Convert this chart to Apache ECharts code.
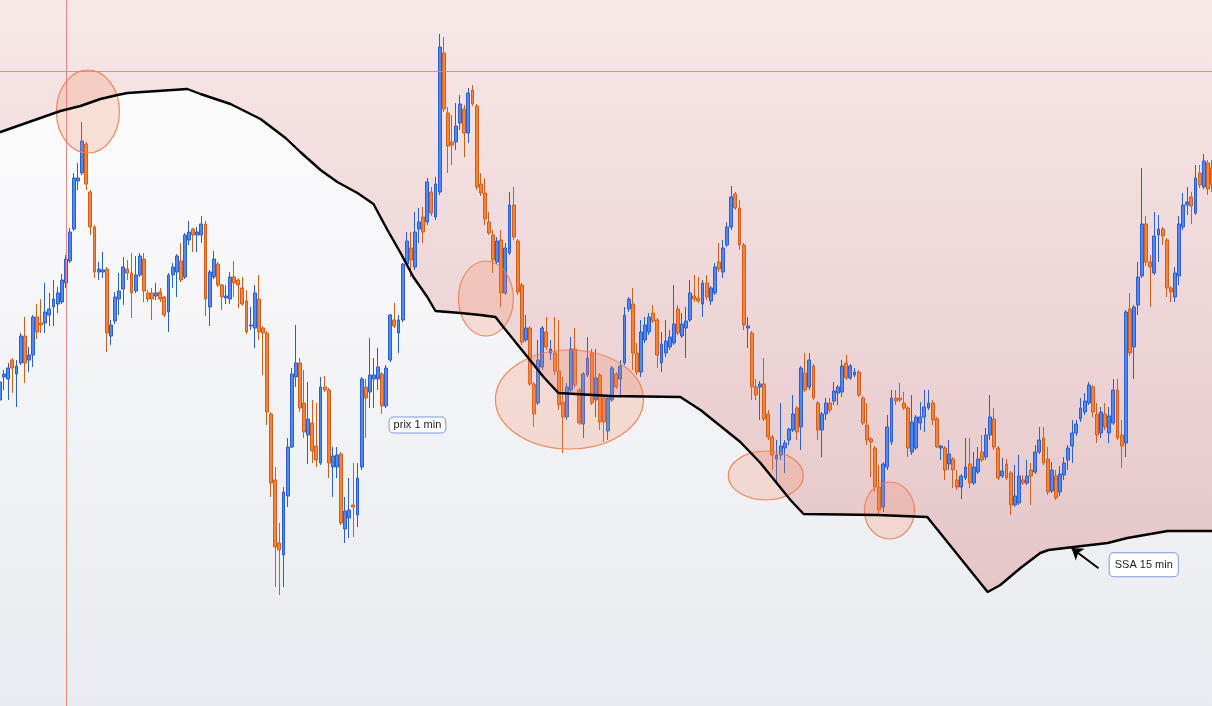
<!DOCTYPE html>
<html><head><meta charset="utf-8">
<script src="https://cdn.jsdelivr.net/npm/echarts@6/dist/echarts.min.js"></script>
<style>html,body{margin:0;padding:0;background:#fff;overflow:hidden;width:1212px;height:706px}#c{position:absolute;left:-2px;top:0;width:1216px;height:706px}</style>
</head><body><div id="c"></div>
<script>
// 1-minute candles: [open, close, low, high]
const ohlc = [
[600,618,595,628],[623,626,610,630],[621,632,600,637],[640,632,607,642],[626,634,593,640],
[637,664,635,667],[664,637,617,683],[640,645,628,653],[645,683,633,685],[683,668,661,696],
[677,675,667,701],[677,688,667,717],[685,691,674,707],[693,701,674,720],[696,707,687,713],
[698,720,696,726],[717,741,712,745],[739,768,737,772],[771,822,769,827],[819,822,810,837],
[827,859,825,878],[856,816,810,858],[808,773,765,810],[773,728,722,775],[728,731,720,738],
[728,730,722,748],[731,667,648,733],[664,675,655,680],[679,703,676,708],[701,709,685,727],
[711,733,695,743],[731,727,720,740],[727,707,682,747],[709,725,707,744],[725,744,723,747],
[741,709,698,747],[707,701,698,710],[707,701,680,712],[704,707,700,717],[708,701,698,712],
[703,685,683,704],[688,725,668,727],[725,733,712,737],[728,744,703,746],[739,720,718,757],
[723,765,721,767],[760,768,755,779],[771,765,748,772],[765,768,748,773],[765,776,757,784],
[776,701,684,779],[693,728,674,730],[723,741,721,749],[736,715,713,738],[715,703,690,716],
[702,704,696,715],[701,723,696,728],[723,717,703,739],[720,715,692,722],[712,696,694,723],
[699,668,666,710],[674,675,670,693],[672,707,652,715],[701,668,660,725],[672,667,625,674],
[667,588,575,669],[586,517,503,588],[520,453,413,533],[457,450,405,477],[445,508,413,513],
[504,553,493,562],[553,626,552,632],[623,637,613,675],[637,592,588,642],[597,568,562,630],
[565,581,536,618],[577,549,537,600],[554,540,533,597],[537,613,535,623],[613,610,608,624],
[610,537,522,612],[533,544,503,553],[533,545,522,553],[546,477,475,548],[471,489,457,503],
[482,490,462,522],[495,493,463,537],[485,522,473,537],[533,621,530,623],[613,602,562,621],
[608,625,592,662],[621,625,592,642],[621,633,610,652],[626,594,586,628],[594,632,592,635],
[640,685,638,686],[680,674,672,697],[667,680,647,685],[680,736,678,737],[736,759,734,768],
[752,740,723,768],[733,768,730,788],[771,778,757,792],[783,768,757,793],[778,818,775,822],
[808,787,784,813],[783,816,780,823],[808,953,805,966],[947,891,888,963],[887,854,827,893],
[858,855,835,885],[858,874,850,897],[877,896,870,905],[891,867,843,895],[867,907,857,912],
[910,896,894,915],[894,813,810,896],[816,807,804,827],[807,781,775,822],[778,767,765,788],
[765,740,727,770],[738,759,736,763],[760,707,693,770],[707,752,705,757],[747,795,745,808],
[795,763,760,813],[759,708,705,761],[715,658,655,717],[660,672,658,685],[672,616,614,674],
[616,586,573,618],[597,640,595,660],[633,672,630,674],[668,653,650,683],[647,651,640,660],
[647,629,625,683],[629,595,590,680],[598,583,547,623],[583,613,580,617],[610,651,608,663],
[651,615,612,672],[610,577,575,612],[576,626,562,628],[625,642,623,663],[647,597,595,651],
[600,622,583,651],[625,578,570,627],[602,578,558,604],[569,602,560,604],[600,632,598,634],
[626,613,611,628],[621,634,602,640],[637,685,635,693],[691,701,688,703],[696,647,630,712],
[647,628,625,657],[628,668,623,680],[660,675,657,683],[668,683,665,687],[687,679,677,695],
[680,645,632,682],[637,656,628,668],[647,659,643,680],[653,663,650,670],[657,676,655,715],
[691,667,665,695],[664,676,662,687],[672,679,642,693],[680,707,678,720],[704,701,698,725],
[702,699,697,723],[696,717,683,720],[717,703,700,725],[699,712,695,714],[707,733,705,737],
[738,731,728,757],[728,752,722,760],[755,773,753,778],[773,803,770,814],[806,792,790,808],
[792,755,750,800],[755,675,670,757],[672,674,652,683],[667,613,600,669],[613,605,600,621],
[613,616,580,619],[616,581,579,642],[586,563,560,590],[563,545,530,565],[541,545,517,560],
[545,554,540,597],[552,557,527,560],[560,571,555,572],[570,586,568,605],[592,568,560,594],
[573,632,550,634],[627,610,608,647],[613,640,610,647],[634,602,600,636],[597,570,560,599],
[570,586,543,588],[586,597,580,602],[597,590,587,602],[599,609,595,618],[607,613,595,615],
[608,634,603,640],[637,622,620,645],[622,634,620,636],[625,628,623,632],[628,605,603,630],
[602,577,575,604],[575,560,555,597],[561,558,523,563],[552,513,508,554],[513,490,485,535],
[493,536,488,538],[533,573,530,585],[558,602,555,610],[602,599,595,610],[602,600,598,617],
[597,592,590,608],[592,552,543,594],[548,578,545,605],[552,583,550,585],[577,583,570,598],
[583,593,568,610],[592,597,590,610],[597,580,575,600],[581,553,552,583],[552,554,540,555],
[552,530,520,554],[536,546,530,560],[541,530,512,543],[520,513,510,530],[513,524,501,526],
[522,533,520,562],[536,517,512,562],[517,533,515,548],[528,541,526,553],[548,540,538,565],
[543,565,540,572],[565,583,560,605],[581,553,550,592],[552,522,520,554],[524,529,522,542],
[536,522,520,541],[527,495,485,529],[495,504,493,535],[497,524,495,545],[520,517,515,525],
[517,524,515,540],[530,524,495,537],[528,548,526,555],[548,560,546,573],[562,537,535,573],
[541,508,505,553],[509,530,507,538],[524,502,500,530],[508,526,504,534],[525,537,520,543],
[540,552,530,555],[554,567,537,580],[567,576,564,580],[581,592,578,602],[588,599,585,607],
[597,615,595,618],[613,588,583,615],[586,565,557,597],[567,588,562,593],[586,573,570,597],
[567,584,557,593],[577,610,575,621],[610,562,560,621],[565,554,532,580],[557,688,543,690],
[691,647,644,707],[653,693,621,695],[695,723,685,738],[724,776,722,832],[776,738,734,784],
[738,733,693,745],[727,764,725,788],[765,771,738,785],[771,764,755,773],[760,712,703,762],
[712,708,698,714],[703,727,698,733],[724,776,715,784],[773,795,770,807],[795,798,785,813],
[803,794,776,808],[787,822,785,835],[827,815,812,835],[813,839,811,846],[837,811,805,840],
[832,815,808,840]
];

// SSA 15 min: [bar position, value]
const ssaLine = [
[-0.8,867],[0.09,868],[4.95,875],[9.82,882],[14.69,889],[19.56,894],[24.43,901],[28.57,905],[31.0,907],
[38.3,909],[45.6,911],[48.8,906],[56.1,896],[63.4,881],[69.5,862],[73.1,848],[78.0,830],
[82.1,818],[87.0,807],[90.9,796],[94.3,770],[97.5,747],[100.6,723],[104.0,703],[106.0,689],
[112.1,687],[116.9,685],[120.6,683],[122.5,673],[128.4,643],[132.3,623],[135.9,607],
[148.6,604],[165.6,603],[170.5,590],[180.2,558],[185.1,537],[192.4,500],[195.6,486],
[213.6,485],[225.7,483],[240.4,408],[243.5,415],[248.4,432],[253.2,447],[255.2,450],
[261.3,453],[269.6,457],[274.4,462],[284.2,469],[296.0,469]
];

// highlighted zones: [bar position, value, half-width in bars, half-height in value]
const zones = [
[21.39,888.5,7.67,41.5],[118.27,701.5,6.69,37.5],[138.6,600.5,18.01,49.5],
[186.4,524.5,9.13,24.5],[216.5,489.5,6.09,28.5]
];
const notes = [[101.6,575,'prix 1 min'],[278.4,435.3,'SSA 15 min']];
const notePadding = [[2,4],[6,5]];
const arrowFrom = [267.4,431.7];
const arrowTo = [260.8,452];
const crossBar = 16;
const crossValue = 929;

const categories = ohlc.map((_, i) => {
  const m = 9 * 60 + i;
  return String(Math.floor(m / 60)).padStart(2, '0') + ':' + String(m % 60).padStart(2, '0');
});

const chart = echarts.init(document.getElementById('c'), null, {renderer: 'canvas'});
const fontFam = '"Liberation Sans", Arial, sans-serif';
const crossColor = '#f08080';
chart.setOption({
  animation: false,
  graphic: [{
    type: 'rect', z: 0, silent: true,
    shape: {x: 0, y: 0, width: 1216, height: 706},
    style: {fill: new echarts.graphic.LinearGradient(0, 0, 0, 1, [
      {offset: 0, color: '#fefefe'}, {offset: 1, color: '#eaebf0'}])}
  }],
  grid: {left: 0, right: 0, top: 0, bottom: 0},
  xAxis: [
    {type: 'category', data: categories, boundaryGap: true, show: false},
    {type: 'value', min: -0.5, max: ohlc.length - 0.5, show: false}
  ],
  yAxis: {type: 'value', min: 294, max: 1000, show: false, splitLine: {show: false}},
  series: [
    {
      type: 'line', xAxisIndex: 1, data: ssaLine, z: 1, silent: true,
      symbol: 'none', lineStyle: {width: 0},
      areaStyle: {origin: 'end', opacity: 1, color: {
        type: 'linear', x: 0, y: 0, x2: 0, y2: 706, global: true,
        colorStops: [{offset: 0, color: '#f8e8e8'}, {offset: 1, color: '#e1bfc2'}]}}
    },
    {
      type: 'candlestick', xAxisIndex: 0, data: ohlc, z: 2,
      barWidth: 3.4, barMinWidth: 3.4, barMaxWidth: 3.4,
      itemStyle: {color: '#5189ef', color0: '#f6833a', borderColor: '#2a5fd2', borderColor0: '#d55d18', borderWidth: 1}
    },
    {
      type: 'custom', xAxisIndex: 1, z: 2.5, silent: true,
      data: [[crossBar, crossValue]],
      renderItem: (params, api) => {
        const p = api.coord([api.value(0), api.value(1)]);
        const cs = params.coordSys;
        const x = Math.round(p[0]) + 0.5, y = Math.round(p[1]) + 0.5;
        const st = {stroke: crossColor, lineWidth: 1, opacity: 0.95};
        return {type: 'group', children: [
          {type: 'line', shape: {x1: x, y1: cs.y, x2: x, y2: cs.y + cs.height}, style: st},
          {type: 'line', shape: {x1: cs.x, y1: y, x2: cs.x + cs.width, y2: y}, style: st}
        ]};
      }
    },
    {
      type: 'custom', xAxisIndex: 1, z: 3, silent: true, data: zones,
      renderItem: (params, api) => {
        const c = api.coord([api.value(0), api.value(1)]);
        const s = api.size([api.value(2), api.value(3)]);
        return {type: 'ellipse', shape: {cx: c[0], cy: c[1], rx: s[0], ry: s[1]},
          style: {fill: 'rgba(243,140,95,0.24)', stroke: 'rgba(238,125,78,0.9)', lineWidth: 1.2}};
      }
    },
    {
      type: 'line', xAxisIndex: 1, data: ssaLine, z: 4, silent: true,
      symbol: 'none', lineStyle: {color: '#000', width: 2.4},
      markLine: {
        silent: true, animation: false, label: {show: false},
        symbol: ['none', 'arrow'], symbolSize: 11,
        lineStyle: {color: '#000', width: 2, type: 'solid'},
        data: [[{coord: arrowFrom}, {coord: arrowTo}]]
      }
    },
    {
      type: 'custom', xAxisIndex: 1, z: 5, silent: true,
      data: notes.map(n => [n[0], n[1]]),
      renderItem: (params, api) => {
        const p = api.coord([api.value(0), api.value(1)]);
        return {type: 'text', x: p[0], y: p[1], style: {
          text: notes[params.dataIndex][2], font: '11px ' + fontFam, fill: '#222',
          align: 'center', verticalAlign: 'middle', backgroundColor: '#fff',
          borderColor: '#7d9ad9', borderWidth: 1, borderRadius: 4,
          padding: notePadding[params.dataIndex]}};
      }
    }
  ]
});
</script></body></html>
